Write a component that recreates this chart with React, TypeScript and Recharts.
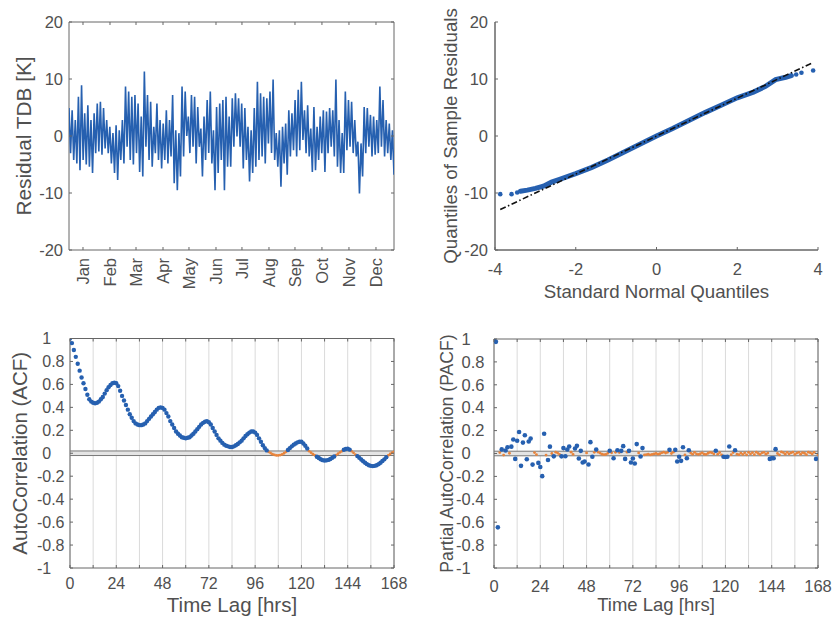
import React from 'react'
import {
  CartesianGrid,
  ComposedChart,
  Label,
  Line,
  ReferenceArea,
  ReferenceLine,
  Scatter,
  XAxis,
  YAxis,
} from 'recharts'

const BLUE = '#2660b0'
const ORANGE = '#e8843c'
const AXIS = '#666666'
const TEXT = '#505050'
const FONT = '"Liberation Sans", Arial, Helvetica, sans-serif'
const TICK = 3

// residual time series, read as high / low per ~3px column of the plot
const residualHigh = [
  4.9, 4.5, 2.8, 6.9, 8.9, 4.0, 5.4, 2.8, 4.0, 5.7, 6.0, 4.9, 2.8, 1.6, 0.5, 1.9, 1.0, 2.8, 8.7, 7.8, 6.9, 7.2, 5.7, 3.4,
  11.3, 7.2, 6.0, 1.6, 5.7, 2.8, 2.2, 4.5, 2.8, 7.2, 1.0, 0.5, 8.7, 7.8, 3.4, 7.2, 6.9, 5.1, 1.3, 3.4, 6.3, 7.8, 1.0, 5.1, 5.7, 6.3, 6.9,
  3.4, 6.6, 7.5, 6.6, 5.7, 4.9, 1.6, 1.0, 4.9, 9.5, 7.5, 6.9, 6.6, 7.8, 9.9, 0.5, 1.0, 1.6, 2.2, 4.5, 4.0, 6.3, 8.1, 9.5, 4.5, 5.4, 1.3,
  5.1, 1.6, 3.4, 4.5, 4.3, 4.9, 4.5, 9.9, 2.8, 0.5, 7.8, 6.3, 6.0, 2.8, -1.0, -1.3, 5.1, 4.9, 3.7, 3.4, 2.8, 8.7, 6.3, 2.8, 2.2, 1.0,
]
const residualLow = [
  -3.0, -4.2, -4.8, -6.0, -4.2, -5.0, -5.4, -6.5, -3.0, -2.7, -3.3, -2.2, -3.0, -4.8, -6.5, -7.7, -4.2, -4.8, -1.9, -4.2, -5.0, -3.0, -6.3, -7.1,
  -1.9, -4.2, -5.4, -3.0, -4.2, -5.7, -4.2, -4.8, -3.6, -8.3, -9.5, -7.1, -3.6, 0.0, -3.0, -1.9, -4.8, -1.9, -7.1, -4.2, -3.0, -4.8, -9.5, -6.5, -4.2, -9.5, -5.4,
  -5.4, -1.9, -0.1, -1.9, -5.7, -4.2, -8.0, -6.5, -5.4, -4.2, -3.6, -4.8, -1.3, -3.0, -4.2, -5.4, -8.9, -4.8, -6.8, -3.6, -2.5, -3.6, -2.5, -0.7, -3.0, -3.6, -6.3,
  -6.0, -4.2, -3.0, -6.3, -3.0, -1.9, -3.6, -5.4, -6.5, -6.5, -2.5, -1.9, -3.0, -3.6, -10.1, -7.1, -3.0, -1.9, -3.6, -3.3, -3.0, -1.9, -3.6, -3.0, -4.2, -6.8,
]
const HOURS = 8760
const months = ['Jan', 'Feb', 'Mar', 'Apr', 'May', 'Jun', 'Jul', 'Aug', 'Sep', 'Oct', 'Nov', 'Dec']
const monthTicks = [377, 1105, 1806, 2534, 3234, 3962, 4662, 5390, 6091, 6818, 7546, 8274]
const residualTicks = [-20, -10, 0, 10, 20]

// QQ plot
const qqX = [-3.37, -3.2, -3.0, -2.8, -2.6, -2.4, -2.0, -1.6, -1.2, -0.8, -0.4, 0, 0.4, 0.8, 1.2, 1.6, 2.0, 2.4, 2.7, 2.95, 3.2, 3.34]
const qqY = [-9.7, -9.5, -9.2, -8.8, -8.1, -7.6, -6.6, -5.5, -4.2, -2.8, -1.4, 0, 1.3, 2.7, 4.1, 5.4, 6.7, 7.7, 8.7, 9.9, 10.3, 10.6]
const qqTailX = [-3.87, -3.59, -3.45, 3.46, 3.59, 3.88]
const qqTailY = [-10.2, -10.2, -9.9, 10.8, 11.1, 11.5]
const qqRefX = [-3.87, 3.85]
const qqRefY = [-12.9, 12.8]
const qqXTicks = [-4, -2, 0, 2, 4]

// autocorrelation, lags 0..168
const acf = [
  1.0, 0.96, 0.9, 0.84, 0.78, 0.72, 0.66, 0.61, 0.56, 0.51,
  0.47, 0.45, 0.44, 0.435, 0.44, 0.45, 0.47, 0.49, 0.52, 0.55,
  0.575, 0.595, 0.61, 0.615, 0.61, 0.585, 0.545, 0.5, 0.46, 0.42,
  0.38, 0.34, 0.31, 0.28, 0.26, 0.25, 0.245, 0.245, 0.25, 0.26,
  0.28, 0.3, 0.32, 0.34, 0.36, 0.38, 0.395, 0.4, 0.395, 0.38,
  0.35, 0.32, 0.28, 0.25, 0.22, 0.19, 0.17, 0.155, 0.14, 0.135,
  0.13, 0.135, 0.14, 0.155, 0.17, 0.19, 0.21, 0.23, 0.25, 0.265,
  0.275, 0.28, 0.27, 0.25, 0.22, 0.19, 0.16, 0.13, 0.11, 0.09,
  0.075, 0.065, 0.06, 0.055, 0.055, 0.06, 0.07, 0.08, 0.095, 0.11,
  0.13, 0.15, 0.165, 0.18, 0.19, 0.19, 0.18, 0.16, 0.13, 0.1,
  0.07, 0.045, 0.025, 0.012, 0.002, -0.008, -0.015, -0.019, -0.019, -0.016,
  -0.01, 0.0, 0.012, 0.028, 0.045, 0.06, 0.075, 0.085, 0.095, 0.1,
  0.1, 0.085, 0.065, 0.042, 0.018, 0.005, -0.008, -0.018, -0.03, -0.042,
  -0.052, -0.06, -0.063, -0.062, -0.058, -0.05, -0.04, -0.028, -0.016, -0.004,
  0.008, 0.018, 0.03, 0.038, 0.04, 0.032, 0.018, 0.004, -0.012, -0.025,
  -0.04, -0.055, -0.07, -0.083, -0.095, -0.104, -0.11, -0.112, -0.11, -0.104,
  -0.095, -0.083, -0.068, -0.053, -0.034, -0.019, -0.006, 0.005, 0.012,
]

// partial autocorrelation, lags 0..168
const pacf = [
  1.0, 0.975, -0.645, 0.008, 0.036, -0.014, 0.026, 0.054, 0.002, 0.06,
  0.122, -0.047, 0.112, 0.188, -0.108, 0.095, 0.16, -0.05, 0.105, 0.13,
  -0.097, 0.008, -0.01, -0.082, -0.118, -0.198, 0.172, -0.014, -0.057, 0.06,
  0.0, -0.025, 0.012, 0.004, -0.008, -0.025, 0.047, -0.024, 0.035, 0.061,
  0.012, -0.008, 0.044, 0.067, -0.044, 0.023, -0.079, -0.07, 0.005, -0.096,
  0.099, -0.029, 0.01, 0.035, 0.012, 0.004, -0.006, -0.01, -0.008, 0.002,
  0.024, 0.006, -0.041, 0.01, 0.029, 0.008, 0.023, 0.064, -0.047, 0.012,
  0.023, -0.079, -0.044, -0.087, 0.082, 0.005, -0.026, 0.047, -0.012, -0.01,
  -0.006, -0.012, -0.008, -0.004, 0.0, -0.006, -0.002, 0.006, 0.012, 0.004,
  0.01, 0.032, 0.0, 0.012, 0.032, -0.07, -0.029, -0.064, 0.055, -0.012,
  -0.041, 0.029, 0.004, -0.006, 0.01, -0.004, -0.008, -0.002, 0.006, -0.006,
  -0.008, 0.002, 0.01, 0.006, -0.004, 0.024, -0.006, 0.008, -0.012, -0.029,
  -0.03, -0.029, 0.061, -0.01, 0.008, 0.029, -0.006, -0.01, 0.004, -0.008,
  0.006, -0.012, 0.01, -0.004, 0.008, -0.01, 0.012, 0.0, -0.008, 0.006,
  0.01, -0.006, 0.004, -0.047, -0.041, -0.041, 0.038, 0.0, -0.012, 0.014,
  0.008, -0.006, 0.01, -0.004, 0.006, 0.012, -0.008, 0.004, 0.01, -0.006,
  0.008, 0.002, -0.01, 0.012, 0.006, -0.004, 0.01, -0.047, -0.01,
]
const BOUND = 0.02
const lagTicks = [0, 12, 24, 36, 48, 60, 72, 84, 96, 108, 120, 132, 144, 156, 168]
const corrTicks = [-1, -0.8, -0.6, -0.4, -0.2, 0, 0.2, 0.4, 0.6, 0.8, 1]

// build series
const residualValues = residualHigh.flatMap((h, i) => [h, residualLow[i]])
const residualData = residualValues.map((value, i) => ({
  hour: (i * HOURS) / (residualValues.length - 1),
  value,
}))
const qqData = qqX.map((x, i) => ({ x, y: qqY[i] }))
const qqTail = qqTailX.map((x, i) => ({ x, y: qqTailY[i] }))
const qqRef = qqRefX.map((x, i) => ({ x, y: qqRefY[i] }))
const toLags = (vals: number[]) => vals.map((value, lag) => ({ lag, value }))
const acfData = toLags(acf)
const pacfData = toLags(pacf)
const outside = (d: { value: number }) => Math.abs(d.value) > BOUND
const inside = (d: { value: number }) => !outside(d)

const dot = (r: number, color: string) => (props: any) => (
  <circle cx={props.cx} cy={props.cy} r={r} fill={color} />
)

// left axis tick: inward tick mark (and mirrored one on the right box edge) plus label;
// axisLen draws the axis line itself upwards from the lowest tick
function YTick(props: any) {
  const { payload, gap, boxW, fs, pad, axisLen, axisFrom } = props
  const x = Number(props.x)
  const y = Number(props.y)
  const ax = x + Number(gap)
  const v = payload.value
  return (
    <g>
      {axisLen && v === axisFrom ? <path d={`M${ax},${y}v${-axisLen}`} stroke={AXIS} fill='none' /> : null}
      <path d={`M${ax},${y}h${TICK}`} stroke={AXIS} strokeWidth={1} fill='none' />
      {boxW ? <path d={`M${ax + boxW},${y}h${-TICK}`} stroke={AXIS} strokeWidth={1} fill='none' /> : null}
      <text x={x} y={y} textAnchor='end' dy='0.35em' fill={TEXT} fontSize={fs} fontFamily={FONT}>
        {String(v)}
        {pad && Number.isInteger(v) ? <tspan fillOpacity={0}>.0</tspan> : null}
      </text>
    </g>
  )
}

// bottom axis tick: inward tick mark (and mirrored one on the top box edge) plus label
function XTick(props: any) {
  const { payload, gap, boxH, fs, rotate, labels, values, every, axisLen, axisFrom } = props
  const x = Number(props.x)
  const y = Number(props.y)
  const ay = y - Number(gap)
  const v = payload.value
  let label = String(v)
  if (labels) label = labels[values.indexOf(v)]
  if (every && v % every !== 0) label = ''
  return (
    <g>
      {axisLen && v === axisFrom ? <path d={`M${x},${ay}h${axisLen}`} stroke={AXIS} fill='none' /> : null}
      <path d={`M${x},${ay}v${-TICK}`} stroke={AXIS} strokeWidth={1} fill='none' />
      {boxH ? <path d={`M${x},${ay - boxH}v${TICK}`} stroke={AXIS} strokeWidth={1} fill='none' /> : null}
      {rotate ? (
        <text
          x={x}
          y={y}
          transform={`rotate(-90 ${x} ${y})`}
          textAnchor='end'
          dy='0.35em'
          fill={TEXT}
          fontSize={fs}
          fontFamily={FONT}
        >
          {label}
        </text>
      ) : (
        <text x={x} y={y} textAnchor='middle' dy='0.71em' fill={TEXT} fontSize={fs} fontFamily={FONT}>
          {label}
        </text>
      )}
    </g>
  )
}

const labelStyle = (size: number) => ({ fill: TEXT, fontSize: size, fontFamily: FONT })

function ResidualPanel() {
  return (
    <ComposedChart width={420} height={310} data={residualData} margin={{ top: 22, right: 26, bottom: 0, left: 0 }}>
      <XAxis
        dataKey='hour'
        type='number'
        domain={[0, HOURS]}
        allowDataOverflow
        ticks={monthTicks}
        interval={0}
        tick={<XTick gap={8} boxH={228} fs={16.5} rotate labels={months} values={monthTicks} />}
        tickSize={0}
        tickMargin={8}
        tickLine={false}
        height={60}
        axisLine={false}
      />
      <YAxis
        dataKey='value'
        type='number'
        domain={[-20, 20]}
        allowDataOverflow
        ticks={residualTicks}
        interval={0}
        width={69}
        tickSize={0}
        tickMargin={6}
        tickLine={false}
        tick={<YTick gap={6} boxW={325} fs={16.5} />}
        axisLine={false}
      >
        <Label
          value='Residual TDB [K]'
          angle={-90}
          position='insideLeft'
          offset={24}
          style={{ ...labelStyle(20.8), textAnchor: 'middle' }}
        />
      </YAxis>
      <ReferenceArea x1={0} x2={HOURS} y1={-20} y2={20} fill='none' stroke={AXIS} ifOverflow='visible' />
      <Line dataKey='value' stroke={BLUE} strokeWidth={1.6} dot={false} isAnimationActive={false} />
    </ComposedChart>
  )
}

function QQPanel() {
  return (
    <ComposedChart width={413} height={310} margin={{ top: 22, right: 15, bottom: 0, left: 0 }}>
      <XAxis
        dataKey='x'
        type='number'
        domain={[-4, 4]}
        allowDataOverflow
        ticks={qqXTicks}
        interval={0}
        tickSize={0}
        tickMargin={13}
        tickLine={false}
        height={60}
        tick={<XTick gap={13} fs={16.5} axisLen={323} axisFrom={-4} />}
        axisLine={false}
      >
        <Label value='Standard Normal Quantiles' position='insideBottom' offset={12} style={labelStyle(18.7)} />
      </XAxis>
      <YAxis
        dataKey='y'
        type='number'
        domain={[-20, 20]}
        allowDataOverflow
        ticks={residualTicks}
        interval={0}
        width={75}
        tickSize={0}
        tickMargin={7}
        tickLine={false}
        tick={<YTick gap={7} fs={16.5} axisLen={228} axisFrom={-20} />}
        axisLine={false}
      >
        <Label
          value='Quantiles of Sample Residuals'
          angle={-90}
          position='insideLeft'
          offset={30}
          style={{ ...labelStyle(18.7), textAnchor: 'middle' }}
        />
      </YAxis>
      <ReferenceLine x={-4} stroke={AXIS} ifOverflow='visible' />
      <ReferenceLine y={-20} stroke={AXIS} ifOverflow='visible' />
      <Line
        data={qqData}
        dataKey='y'
        stroke={BLUE}
        strokeWidth={5}
        strokeLinecap='round'
        dot={false}
        isAnimationActive={false}
      />
      <Scatter data={qqTail} shape={dot(2.3, BLUE)} isAnimationActive={false} />
      <Line
        data={qqRef}
        dataKey='y'
        stroke='#111111'
        strokeWidth={1.6}
        strokeDasharray='6 2.5 1.5 2.5'
        dot={false}
        isAnimationActive={false}
      />
    </ComposedChart>
  )
}

type CorrProps = {
  data: { lag: number; value: number }[]
  yAxisWidth: number
  yGap: number
  xGap: number
  yLabel: string
  yLabelSize: number
  yLabelOffset: number
  xLabelSize: number
  xLabelOffset: number
  tickFont: number
  right: number
  top: number
  blueR: number
}

function CorrPanel(p: CorrProps) {
  const plotW = 324
  const plotH = 258 - p.top
  const width = p.yAxisWidth + plotW + p.right
  return (
    <ComposedChart width={width} height={318} margin={{ top: p.top, right: p.right, bottom: 0, left: 0 }}>
      <CartesianGrid horizontal={false} stroke='#dadada' />
      <ReferenceArea y1={-BOUND} y2={BOUND} fill='#e4e4e4' fillOpacity={1} stroke='none' />
      <ReferenceLine y={BOUND} stroke='#777777' />
      <ReferenceLine y={-BOUND} stroke='#777777' />
      <ReferenceArea x1={0} x2={168} y1={-1} y2={1} fill='none' stroke={AXIS} ifOverflow='visible' />
      <XAxis
        dataKey='lag'
        type='number'
        domain={[0, 168]}
        allowDataOverflow
        ticks={lagTicks}
        interval={0}
        tickSize={0}
        tickMargin={p.xGap}
        tickLine={false}
        height={60}
        tick={<XTick gap={p.xGap} boxH={plotH} fs={p.tickFont} every={24} />}
        axisLine={false}
      >
        <Label value='Time Lag [hrs]' position='insideBottom' offset={p.xLabelOffset} style={labelStyle(p.xLabelSize)} />
      </XAxis>
      <YAxis
        dataKey='value'
        type='number'
        domain={[-1, 1]}
        allowDataOverflow
        ticks={corrTicks}
        interval={0}
        width={p.yAxisWidth}
        tickSize={0}
        tickMargin={p.yGap}
        tickLine={false}
        tick={<YTick gap={p.yGap} boxW={plotW} fs={p.tickFont} pad />}
        axisLine={false}
      >
        <Label
          value={p.yLabel}
          angle={-90}
          position='insideLeft'
          offset={p.yLabelOffset}
          style={{ ...labelStyle(p.yLabelSize), textAnchor: 'middle' }}
        />
      </YAxis>
      <Scatter data={p.data.filter(inside)} shape={dot(1.4, ORANGE)} isAnimationActive={false} />
      <Scatter data={p.data.filter(outside)} shape={dot(p.blueR, BLUE)} isAnimationActive={false} />
    </ComposedChart>
  )
}

export default function App() {
  return (
    <div style={{ position: 'absolute', left: 0, top: 0, width: 833, height: 628, background: '#fff' }}>
      <div style={{ position: 'absolute', left: 0, top: 0 }}>
        <ResidualPanel />
      </div>
      <div style={{ position: 'absolute', left: 420, top: 0 }}>
        <QQPanel />
      </div>
      <div style={{ position: 'absolute', left: 0, top: 310 }}>
        <CorrPanel
          data={acfData}
          yAxisWidth={70}
          yGap={5.5}
          xGap={10}
          yLabel='AutoCorrelation (ACF)'
          yLabelSize={20.5}
          yLabelOffset={19.5}
          xLabelSize={20.5}
          xLabelOffset={16}
          tickFont={16}
          right={26}
          top={28.5}
          blueR={2.2}
        />
      </div>
      <div style={{ position: 'absolute', left: 420, top: 310 }}>
        <CorrPanel
          data={pacfData}
          yAxisWidth={74}
          yGap={9.5}
          xGap={12}
          yLabel='Partial AutoCorrelation (PACF)'
          yLabelSize={17.6}
          yLabelOffset={26.5}
          xLabelSize={18.5}
          xLabelOffset={17}
          tickFont={16.5}
          right={15}
          top={29}
          blueR={2.3}
        />
      </div>
    </div>
  )
}
